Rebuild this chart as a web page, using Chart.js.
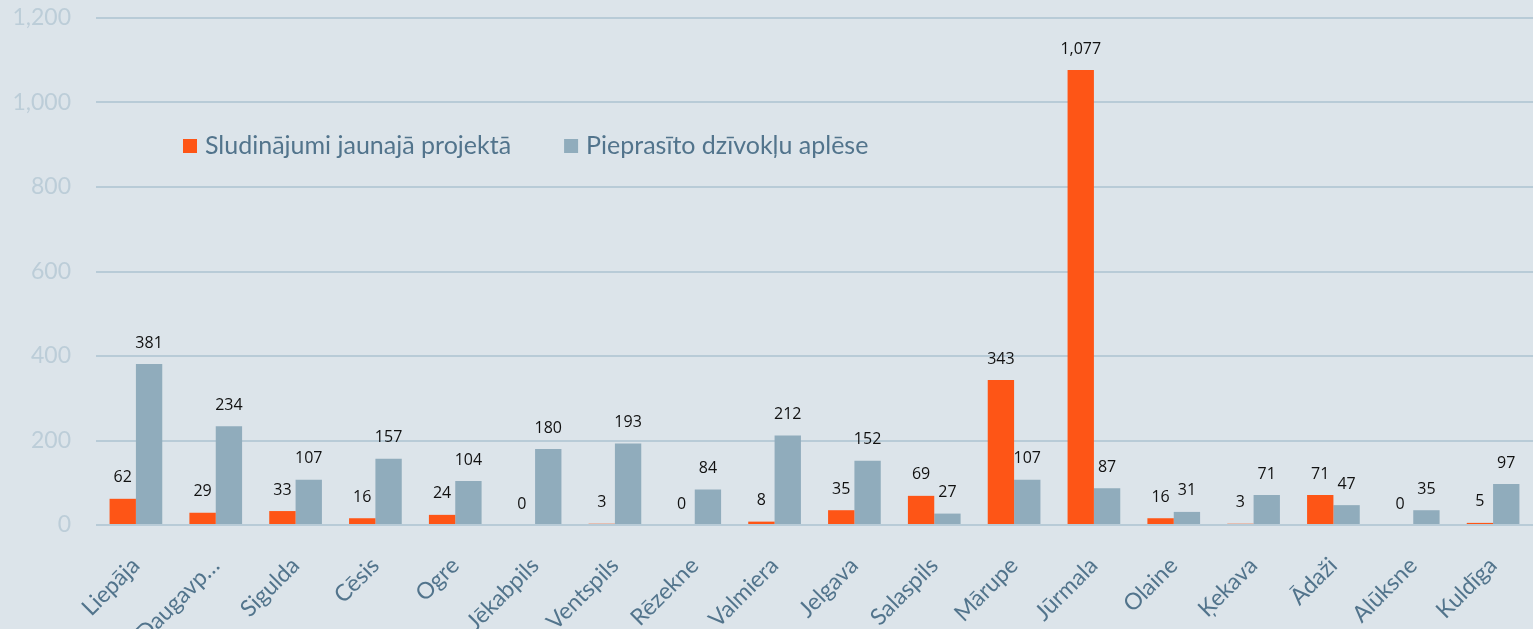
<!DOCTYPE html>
<html>
<head>
<meta charset="utf-8">
<script src="https://cdn.jsdelivr.net/npm/chart.js@4.4.1/dist/chart.umd.min.js"></script>
<style>
  html, body { margin: 0; padding: 0; background: #dce4ea; }
  #wrap { width: 1533px; height: 629px; position: relative; }
</style>
</head>
<body>
<div id="wrap"><canvas id="Chart"></canvas></div>
<script>
// Categories (cities)
var cities = ['Liepāja','Daugavp…','Sigulda','Cēsis','Ogre','Jēkabpils','Ventspils','Rēzekne','Valmiera',
              'Jelgava','Salaspils','Mārupe','Jūrmala','Olaine','Ķekava','Ādaži','Alūksne','Kuldīga'];

// Series values
var listings = [62,29,33,16,24,0,3,0,8,35,69,343,1077,16,3,71,0,5];
var estimates = [381,234,107,157,104,180,193,84,212,152,27,107,87,31,71,47,35,97];

// Series names
var seriesNames = ['Sludinājumi jaunajā projektā', 'Pieprasīto dzīvokļu aplēse'];

// Y axis ticks
var yMin = 0, yMax = 1200, yStep = 200;

var ORANGE = '#fe5516';
var GREY = '#90acbc';

// ----------------------------------- plugins -------------------------------------------
// Value labels above each bar
var valueLabels = {
  id: 'valueLabels',
  afterDatasetsDraw: function(chart) {
    var ctx = chart.ctx;
    ctx.save();
    ctx.font = '16px "Open Sans"';
    ctx.fillStyle = '#111111';
    ctx.textAlign = 'center';
    ctx.textBaseline = 'middle';
    chart.data.datasets.forEach(function(ds, i) {
      chart.getDatasetMeta(i).data.forEach(function(bar, j) {
        ctx.fillText(ds.data[j].toLocaleString('en-US'), bar.x, bar.y - 21);
      });
    });
    ctx.restore();
  }
};

// Legend drawn inside the plot area
var innerLegend = {
  id: 'innerLegend',
  afterDraw: function(chart) {
    var ctx = chart.ctx;
    var area = chart.chartArea;
    var x = area.left + 87;
    var y = area.top + 128;
    ctx.save();
    ctx.font = '25px Lato';
    ctx.textBaseline = 'middle';
    chart.data.datasets.forEach(function(ds) {
      ctx.fillStyle = ds.backgroundColor;
      ctx.fillRect(x, y - 7, 14, 14);
      ctx.fillStyle = '#52748c';
      ctx.fillText(ds.label, x + 22, y);
      x += 22 + ctx.measureText(ds.label).width + 53;
    });
    ctx.restore();
  }
};

// ----------------------------------- Chart.js -------------------------------------------
var chart = document.getElementById('Chart');
var myChart = new Chart(chart, {
  type: 'bar',
  data: {
    labels: cities,
    datasets: [
      { label: seriesNames[0], backgroundColor: ORANGE, data: listings },
      { label: seriesNames[1], backgroundColor: GREY, data: estimates }
    ]
  },
  options: {
    responsive: true,
    maintainAspectRatio: false,
    animation: false,
    layout: { padding: { left: 0, right: 0, top: 18, bottom: 0 } },
    datasets: { bar: { categoryPercentage: 0.66, barPercentage: 1.0 } },
    plugins: {
      legend: { display: false },
      tooltip: { enabled: false }
    },
    scales: {
      x: {
        grid: { display: false },
        border: { display: false },
        afterFit: function(scale) {
          scale.height = 104;
          scale.paddingLeft = 0; scale.paddingRight = 0;
          scale.paddingTop = 0; scale.paddingBottom = 0;
        },
        ticks: {
          minRotation: 45,
          maxRotation: 45,
          autoSkip: false,
          padding: 19,
          color: '#52748c',
          font: { family: 'Lato', size: 23 }
        }
      },
      y: {
        min: yMin,
        max: yMax,
        grid: { color: '#b8cbd7', lineWidth: 2, drawTicks: false },
        border: { display: false },
        afterFit: function(scale) {
          scale.width = 96;
          scale.paddingTop = 0; scale.paddingBottom = 0;
        },
        ticks: {
          stepSize: yStep,
          padding: 25,
          color: '#bccdd8',
          font: { family: 'Lato', size: 23 },
          callback: function(v) { return v.toLocaleString('en-US'); }
        }
      }
    }
  },
  plugins: [valueLabels, innerLegend]
});
</script>
</body>
</html>
